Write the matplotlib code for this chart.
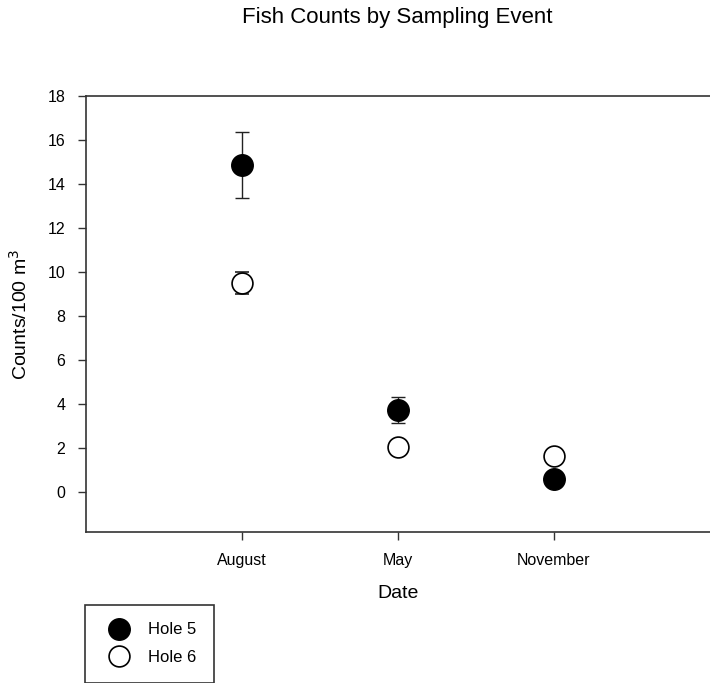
import matplotlib.pyplot as plt
import numpy as np

plt.rcParams['font.family'] = ['Liberation Sans', 'DejaVu Sans']

dates = ['August', 'May', 'November']
hole5 = [14.85, 3.75, 0.6]
hole5_err = [1.5, 0.6, 0.0]
hole6 = [9.5, 2.05, 1.65]
hole6_err = [0.5, 0.0, 0.0]

x = np.arange(1, len(dates) + 1)

fig = plt.figure(figsize=(7.1, 6.83), dpi=100)
ax = fig.add_axes([86 / 710, 1 - 532 / 683, 1 - 86 / 710, (532 - 96) / 683])

ax.errorbar(x, hole5, yerr=hole5_err, fmt='o', color='black', ecolor='#222222',
            elinewidth=1, capsize=5, capthick=1, markersize=15.5,
            markerfacecolor='black', markeredgecolor='black', label='Hole 5', zorder=3)
ax.errorbar(x, hole6, yerr=hole6_err, fmt='o', color='black', ecolor='#222222',
            elinewidth=1, capsize=5, capthick=1, markersize=15,
            markerfacecolor='white', markeredgecolor='black', markeredgewidth=1.2,
            label='Hole 6', zorder=3)

ax.set_xlim(0, 4)
ax.set_ylim(-1.8, 18)
ax.set_xticks(x)
ax.set_xticklabels(dates)
ax.set_yticks(np.arange(0, 19, 2))
ax.spines['right'].set_visible(False)
for s in ('left', 'bottom', 'top'):
    ax.spines[s].set_color('#333333')
    ax.spines[s].set_linewidth(1.2)
ax.tick_params(direction='out', length=6, width=1, color='#333333', labelsize=11.5)
ax.tick_params(axis='y', pad=9)
ax.tick_params(axis='x', pad=9)

ax.set_xlabel('Date', fontsize=14, labelpad=12)
ax.set_ylabel('Counts/100 m$^3$', fontsize=14, labelpad=12)
fig.text(397 / 710, 1 - 18 / 683, 'Fish Counts by Sampling Event', fontsize=16,
         ha='center', va='center')

handles, labels = ax.get_legend_handles_labels()
handles = [h[0] for h in handles]
leg = fig.legend(handles, labels, loc='upper left',
                 bbox_to_anchor=(85 / 710, 1 - 605 / 683), fontsize=12,
                 fancybox=False, edgecolor='#333333', framealpha=1,
                 borderpad=1.05, handletextpad=0.8, labelspacing=0.75,
                 handlelength=1.95, borderaxespad=0)
leg.get_frame().set_linewidth(1.2)

plt.savefig('out.png', dpi=100)
